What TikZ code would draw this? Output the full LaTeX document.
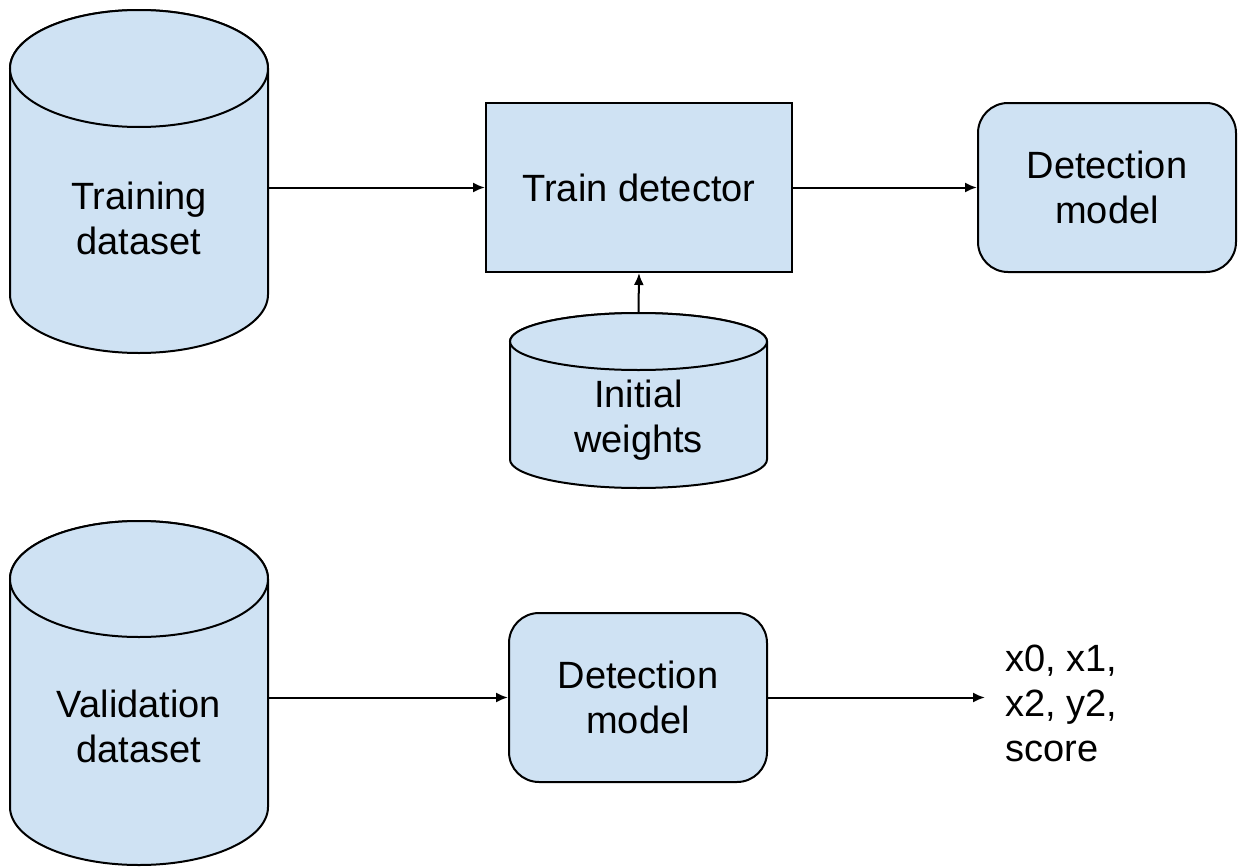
\documentclass[tikz,border=0pt]{standalone}
\usepackage{fontspec}
\setmainfont{Liberation Sans}
\usetikzlibrary{arrows.meta}
\definecolor{boxblue}{HTML}{CFE2F3}
\tikzset{
  lbl/.style={font=\fontsize{19}{22.5}\selectfont, align=center, inner sep=0pt},
  procbox/.style={draw=black, fill=boxblue, line width=1pt, minimum width=153pt,
                  minimum height=84.5pt, inner sep=0pt, lbl},
  modelbox/.style={procbox, rounded corners=15pt, minimum width=129pt},
  flow/.style={line width=1pt, -{Latex[length=6pt,width=5pt]}},
  dbshape/.style={draw=black, fill=boxblue, line width=1pt},
}
% database cylinder: name, centre x, x radius, top y, bottom y, lid y radius
\newcommand\database[6]{%
  \path[dbshape] ({#2-#3},{#4+#6}) -- ({#2-#3},{#5-#6})
     arc[start angle=180,end angle=0,x radius=#3,y radius=#6]
     -- ({#2+#3},{#4+#6})
     arc[start angle=0,end angle=-180,x radius=#3,y radius=#6] -- cycle;
  \draw[dbshape] (#2,{#4+#6}) ellipse[x radius=#3,y radius=#6];
  \node[inner sep=0pt,minimum width={2*#3*0.5pt},minimum height={(#5-#4)*0.5pt}]
     (#1) at (#2,{(#4+#5)/2}) {};
}
\begin{document}
\begin{tikzpicture}[x=0.5pt,y=-0.5pt]
\useasboundingbox (0,0) rectangle (1238,867);

% data stores
\database{tds}{139}{129}{10}{353}{58.5}
\database{iw}{638.5}{128.5}{313}{488}{28.5}
\database{vds}{139}{129}{521}{865}{58}

\node[lbl] (tdsl) at (139,218) {Training\\dataset};
\node[lbl] (iwl) at (638.5,420) {Initial\\weights};
\node[lbl] (vdsl) at (139,726) {Validation\\dataset};

% processing steps
\node[procbox] (train) at (639,187.5) {Train detector};
\node[modelbox] (model1) at (1107,187.5) {Detection\\model};
\node[modelbox] (model2) at (638,697.5) {Detection\\model};

% output
\node[lbl, align=left, anchor=west] (out) at (1005,703) {x0, x1,\\x2, y2,\\score};

% connectors
\draw[flow] (tds.east |- train.west) -- (train.west);
\draw[flow] (iw.north) -- (train.south);
\draw[flow] (train.east) -- (model1.west);
\draw[flow] (vds.east |- model2.west) -- (model2.west);
\draw[flow, shorten >=10pt] (model2.east) -- (model2.east -| out.west);
\end{tikzpicture}
\end{document}
